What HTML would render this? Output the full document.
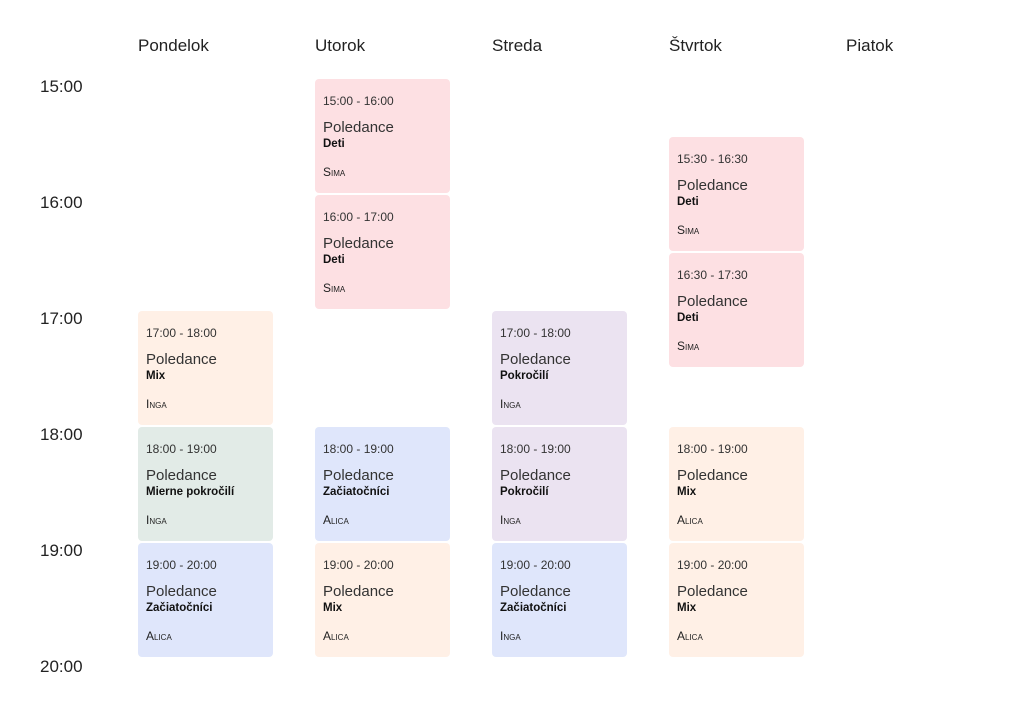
<!DOCTYPE html>
<html><head><meta charset="utf-8"><style>
body{margin:0;width:1024px;height:728px;background:#fff;font-family:"Liberation Sans",sans-serif;color:#222;position:relative;overflow:hidden}
.day{position:absolute;top:36px;font-size:17px;color:#222}
.hour{position:absolute;left:40px;font-size:17px;color:#222}
.ev{position:absolute;width:135px;height:114px;border-radius:4px;box-sizing:border-box;padding-left:8px}
.ev .t{position:absolute;top:15px;font-size:12px;color:#333}
.ev .n{position:absolute;top:40px;font-size:15px;color:#333}
.ev .l{position:absolute;top:59px;font-size:11.5px;font-weight:bold;color:#111}
.ev .i{position:absolute;top:86px;font-size:12px;font-variant:small-caps;color:#222}
</style></head><body>
<div id="root"></div>
<script>
const days=["Pondelok","Utorok","Streda","Štvrtok","Piatok"];
const hours=["15:00","16:00","17:00","18:00","19:00","20:00"];
const evDay=[1,1,3,3,0,2,0,1,2,3,0,1,2,3];
const evStart=[15,16,15.5,16.5,17,17,18,18,18,18,19,19,19,19];
const evLevel=["Deti","Deti","Deti","Deti","Mix","Pokročilí","Mierne pokročilí","Začiatočníci","Pokročilí","Mix","Začiatočníci","Mix","Začiatočníci","Mix"];
const evInstr=["Sima","Sima","Sima","Sima","Inga","Inga","Inga","Alica","Inga","Alica","Alica","Alica","Inga","Alica"];
const colors={"Deti":"#fde0e3","Mix":"#fff0e6","Pokročilí":"#ebe3f1","Mierne pokročilí":"#e2ebe7","Začiatočníci":"#dfe6fb"};
const x0=138,colW=177,y0=79,hourH=116;
const xs=d=>x0+d*colW, ys=h=>y0+(h-15)*hourH;
const fmt=h=>Math.floor(h)+":"+(h%1?"30":"00");
const root=document.getElementById('root');
days.forEach((d,i)=>{const e=document.createElement('div');e.className='day';e.style.left=xs(i)+'px';e.textContent=d;


root.appendChild(e);});
hours.forEach((h,i)=>{const e=document.createElement('div');e.className='hour';e.style.top=(ys(15+i)-2)+'px';e.textContent=h;


root.appendChild(e);});
evDay.forEach((d,k)=>{const e=document.createElement('div');e.className='ev';
e.style.left=xs(d)+'px';e.style.top=ys(evStart[k])+'px';e.style.background=colors[evLevel[k]];


e.innerHTML='<div class="t">'+fmt(evStart[k])+' - '+fmt(evStart[k]+1)+'</div><div class="n">Poledance</div><div class="l">'+evLevel[k]+'</div><div class="i">'+evInstr[k]+'</div>';
root.appendChild(e);});
</script>
</body></html>
